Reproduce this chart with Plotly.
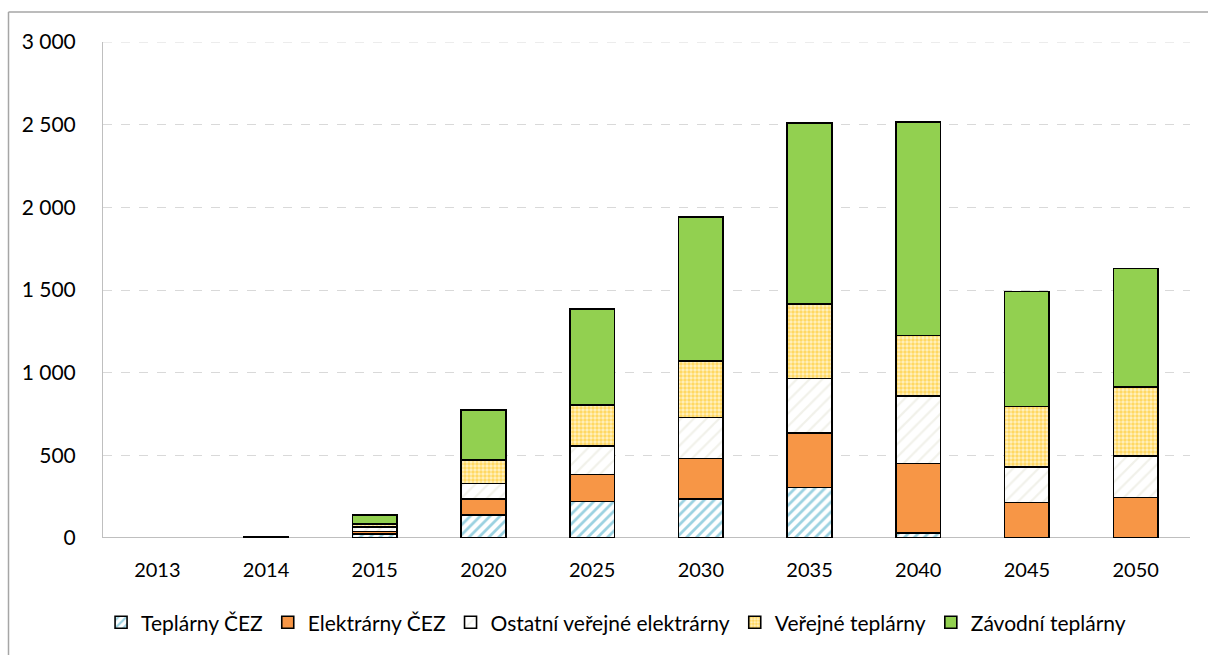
import plotly.graph_objects as go

# Years on the category axis
years = ["2013", "2014", "2015", "2020", "2025", "2030", "2035", "2040", "2045", "2050"]

# Stacked components (MW)
teplarny_cez = [None, 1, 25, 140, 220, 235, 305, 30, 0, 0]
elektrarny_cez = [None, 1, 15, 95, 165, 245, 330, 420, 215, 245]
ostatni_verejne = [None, 0, 25, 95, 170, 250, 330, 410, 215, 250]
verejne_teplarny = [None, 0, 20, 140, 250, 340, 450, 365, 365, 420]
zavodni_teplarny = [None, 3, 55, 305, 580, 870, 1095, 1290, 695, 715]

series_names = ["Teplárny ČEZ", "Elektrárny ČEZ", "Ostatní veřejné elektrárny",
                "Veřejné teplárny", "Závodní teplárny"]

y_max = 3000

FONT = "Lato"
outline = dict(color="#000000", width=1.6)

fig = go.Figure()

fig.add_bar(
    x=years, y=teplarny_cez, name=series_names[0],
    marker=dict(color="#ffffff", line=outline,
                pattern=dict(shape="/", fgcolor="#3aa6c4", bgcolor="#ffffff",
                             size=7, solidity=0.4)),
)
fig.add_bar(
    x=years, y=elektrarny_cez, name=series_names[1],
    marker=dict(color="#f79646", line=outline),
)
fig.add_bar(
    x=years, y=ostatni_verejne, name=series_names[2],
    marker=dict(color="#ffffff", line=outline,
                pattern=dict(shape="/", fgcolor="#e4e4d6", bgcolor="#ffffff",
                             size=9, solidity=0.25)),
)
fig.add_bar(
    x=years, y=verejne_teplarny, name=series_names[3],
    marker=dict(color="#ffe38a", line=outline,
                pattern=dict(shape=".", fgcolor="#ffc000", bgcolor="#fff1c4",
                             size=4, solidity=0.6)),
)
fig.add_bar(
    x=years, y=zavodni_teplarny, name=series_names[4],
    marker=dict(color="#92d050", line=outline),
)

# Plot area spans x 103..1190 px, y 42..540 px
L, R, T, B = 103, 18, 42, 115
W, H = 1208, 655
pw, ph = W - L - R, H - T - B


def px_x(x):
    return (x - L) / pw


def px_y(y):
    return (H - B - y) / ph


fig.update_layout(
    width=W, height=H,
    margin=dict(l=L, r=R, t=T, b=B, pad=0),
    barmode="stack",
    bargap=0.59,
    paper_bgcolor="#ffffff",
    plot_bgcolor="#ffffff",
    separators=", ",
    font=dict(family=FONT, size=20, color="#000000"),
    legend=dict(
        orientation="h",
        x=0.472, xanchor="center",
        y=px_y(625), yanchor="middle",
        font=dict(family=FONT, size=21, color="#000000"),
        traceorder="normal",
        itemwidth=30,
        bgcolor="rgba(0,0,0,0)",
    ),
    xaxis=dict(
        type="category",
        showgrid=False,
        showline=False,
        ticks="",
        tickfont=dict(family=FONT, size=20),
        ticklabelstandoff=18,
    ),
    yaxis=dict(
        range=[0, y_max],
        tick0=0, dtick=500,
        tickformat=",d",
        showgrid=True,
        gridcolor="#d9d9d9",
        griddash="dash",
        gridwidth=1,
        showline=True,
        linecolor="#bfbfbf",
        linewidth=1,
        zeroline=False,
        ticks="",
        tickfont=dict(family=FONT, size=21),
        ticklabelstandoff=22,
    ),
    shapes=[
        # top gridline at the axis maximum
        dict(type="line", xref="paper", yref="y", x0=0, x1=1, y0=y_max, y1=y_max,
             line=dict(color="#d9d9d9", width=1, dash="dash"), layer="below"),
        # baseline of the category axis
        dict(type="line", xref="paper", yref="y", x0=0, x1=1, y0=0, y1=0,
             line=dict(color="#bfbfbf", width=2), layer="below"),
        # chart frame (top and left edges)
        dict(type="line", xref="paper", yref="paper",
             x0=px_x(8.5), x1=px_x(1215), y0=px_y(12), y1=px_y(12),
             line=dict(color="#a6a6a6", width=1.5)),
        dict(type="line", xref="paper", yref="paper",
             x0=px_x(8.5), x1=px_x(8.5), y0=px_y(12), y1=px_y(665),
             line=dict(color="#a6a6a6", width=1.5)),
    ],
)

fig.write_html("out.html")
